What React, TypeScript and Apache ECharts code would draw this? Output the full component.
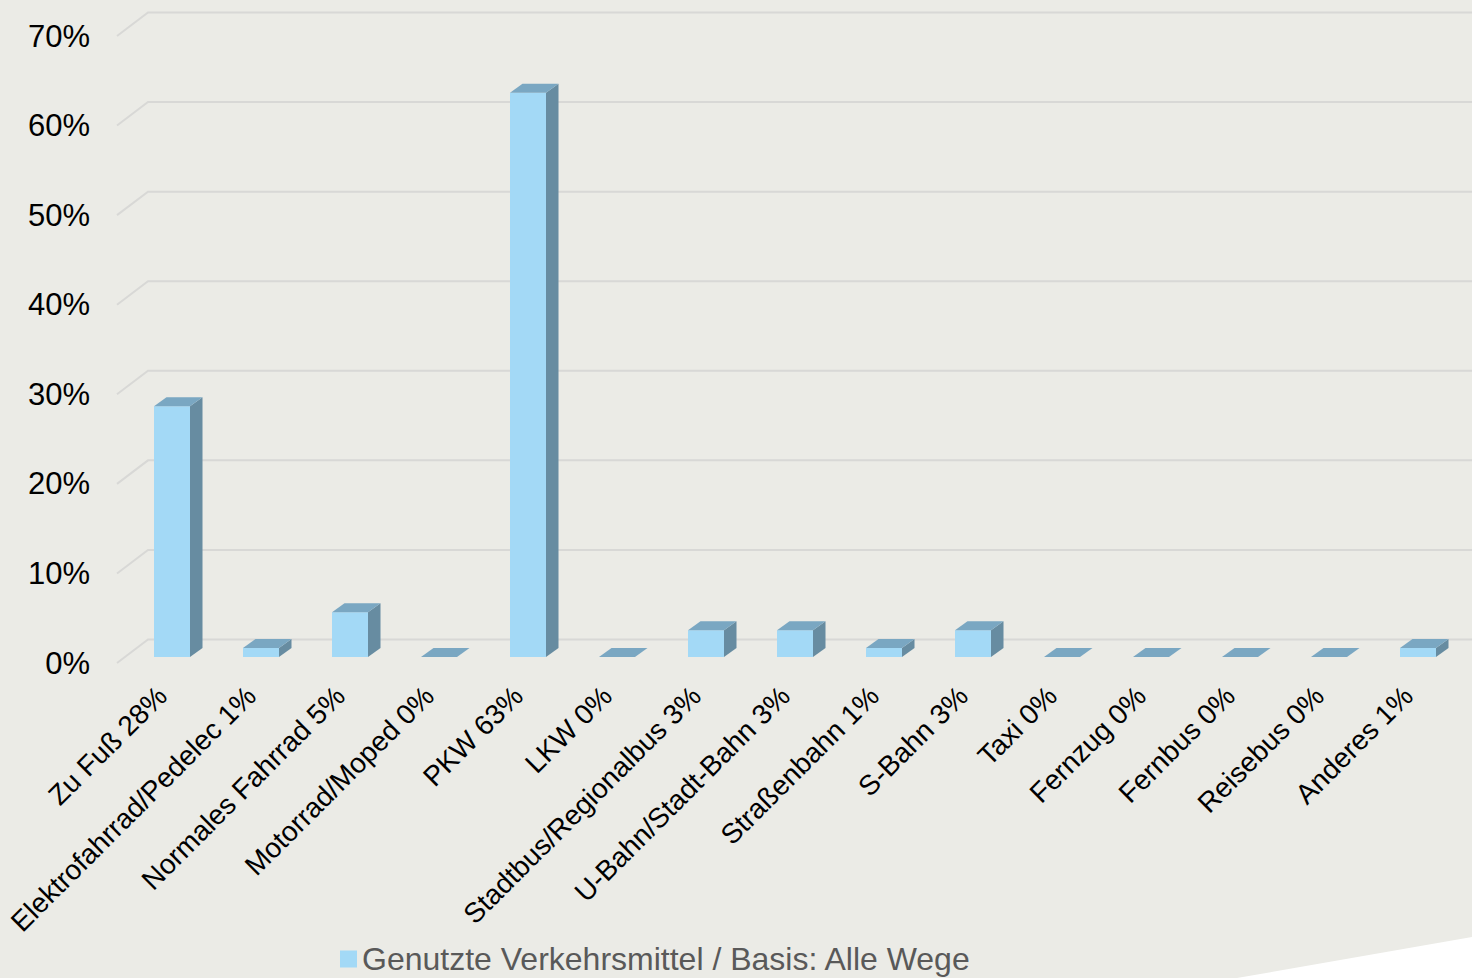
import React, { useEffect, useRef } from "react";
import * as echarts from "echarts";

const names = [
  "Zu Fuß",
  "Elektrofahrrad/Pedelec",
  "Normales Fahrrad",
  "Motorrad/Moped",
  "PKW",
  "LKW",
  "Stadtbus/Regionalbus",
  "U-Bahn/Stadt-Bahn",
  "Straßenbahn",
  "S-Bahn",
  "Taxi",
  "Fernzug",
  "Fernbus",
  "Reisebus",
  "Anderes",
];
const values = [28, 1, 5, 0, 63, 0, 3, 3, 1, 3, 0, 0, 0, 0, 1];
const yTicks = [0, 10, 20, 30, 40, 50, 60, 70];
const seriesName = "Genutzte Verkehrsmittel / Basis: Alle Wege";

const FRONT = "#A3D9F6";
const SIDE = "#678CA1";
const TOP = "#7AA7C2";
const GRID = "#D8D8D6";
const BG = "#EBEBE6";
const FONT = "'Liberation Sans', Arial, sans-serif";

export default function App() {
  const ref = useRef<HTMLDivElement>(null);
  useEffect(() => {
    if (!ref.current) return;
    const chart = echarts.init(ref.current, null, { renderer: "svg" });
    const labels = names.map((n, i) => `${n} ${values[i]}%`);
    chart.setOption({
      animation: false,
      backgroundColor: BG,
      grid: {
        left: 127.5,
        right: 9.5,
        top: 36,
        bottom: 315,
        containLabel: false,
        outerBoundsMode: "none",
      },
      legend: {
        data: [seriesName],
        left: 335,
        top: 938,
        itemWidth: 17,
        itemHeight: 17,
        icon: "rect",
        textStyle: { fontSize: 32, color: "#595959", fontFamily: FONT },
      },
      xAxis: {
        type: "category",
        data: labels,
        axisLine: { show: false },
        axisTick: { show: false },
        splitLine: { show: false },
        axisLabel: {
          rotate: 45,
          interval: 0,
          margin: 38,
          fontSize: 28,
          align: "right",
          verticalAlign: "bottom",
          color: "#000",
          fontFamily: FONT,
        },
      },
      yAxis: {
        type: "value",
        min: 0,
        max: 70,
        interval: 10,
        axisLine: { show: false },
        axisTick: { show: false },
        splitLine: { show: false },
        axisLabel: {
          formatter: "{value}%",
          margin: 37.5,
          fontSize: 31,
          color: "#000",
          fontFamily: FONT,
        },
      },
      graphic: [
        {
          type: "polygon",
          shape: { points: [[1237, 978], [1472, 937], [1472, 978]] },
          style: { fill: "#FFFFFF" },
          z: 10,
        },
      ],
      series: [
        {
          type: "custom",
          name: "grid3d",
          z: 1,
          clip: false,
          silent: true,
          data: yTicks.map((t) => [0, t]),
          renderItem: (params: any, api: any) => {
            const y = api.coord([0, api.value(1)])[1];
            const cs = params.coordSys;
            return {
              type: "polyline",
              shape: {
                points: [
                  [cs.x - 10.5, y],
                  [cs.x + 20.5, y - 23.5],
                  [cs.x + cs.width + 20, y - 23.5],
                ],
              },
              style: { stroke: GRID, lineWidth: 2, fill: "none" },
            };
          },
        },
        {
          type: "custom",
          name: seriesName,
          z: 2,
          clip: false,
          itemStyle: { color: FRONT },
          data: values.map((v, i) => [i, v]),
          renderItem: (params: any, api: any) => {
            const i = api.value(0);
            const v = api.value(1);
            const base = api.coord([i, 0]);
            const top = api.coord([i, v]);
            const w = 36;
            const off = -6;
            const dx = 12.5;
            const dy = -9;
            const x0 = base[0] - w / 2;
            const x1 = base[0] + w / 2;
            const yB = base[1] + off;
            const yT = top[1] + off;
            return {
              type: "group",
              children: [
                {
                  type: "rect",
                  shape: { x: x0, y: yT, width: w, height: yB - yT },
                  style: { fill: FRONT },
                },
                {
                  type: "polygon",
                  shape: { points: [[x1, yT], [x1 + dx, yT + dy], [x1 + dx, yB + dy], [x1, yB]] },
                  style: { fill: SIDE },
                },
                {
                  type: "polygon",
                  shape: { points: [[x0, yT], [x0 + dx, yT + dy], [x1 + dx, yT + dy], [x1, yT]] },
                  style: { fill: TOP },
                },
              ],
            };
          },
        },
      ],
    });
    return () => chart.dispose();
  }, []);
  return (
    <div
      ref={ref}
      style={{ position: "fixed", left: 0, top: 0, width: 1472, height: 978 }}
    />
  );
}
